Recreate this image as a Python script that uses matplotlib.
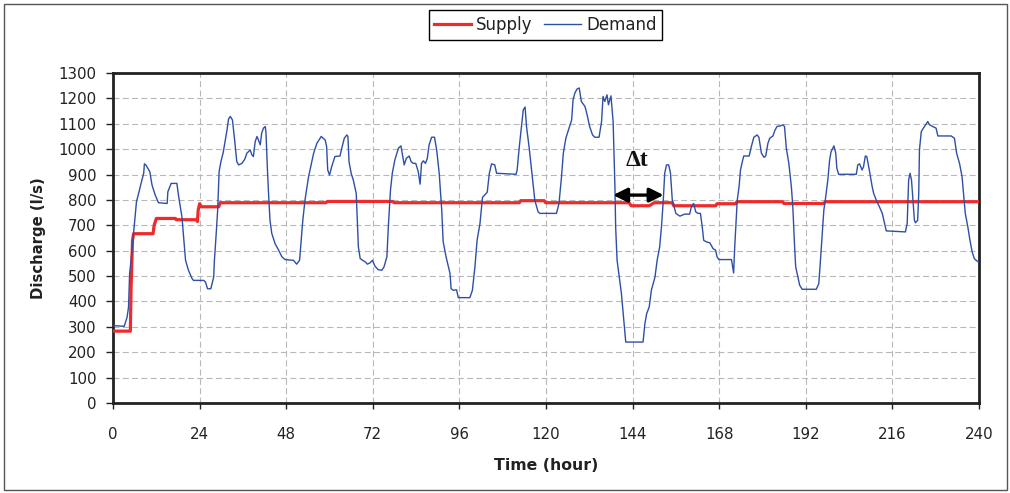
import numpy as np
import matplotlib.pyplot as plt
from matplotlib.patches import Rectangle

plt.rcParams['font.family'] = ['DejaVu Sans']
plt.rcParams['lines.scale_dashes'] = False

#1. data
hour_ticks = list(range(0, 241, 24))
q_ticks = list(range(0, 1301, 100))

supply_hour = [0, 4.8, 5.0, 5.4, 5.7, 11.1, 11.4, 12.0, 17.3, 17.5, 23.1, 23.4, 23.6, 24.0, 24.5,
               29.3, 29.7, 59.0, 59.4, 77.5, 77.9, 112.6, 113.0, 119.5, 119.9, 143.0, 143.6,
               148.6, 150.0, 155.0, 155.4, 167.0, 167.4, 172.6, 172.9, 185.6, 185.9, 197.0, 197.4, 240]
supply_q = [283, 283, 450, 640, 667, 667, 700, 727, 727, 722, 722, 715, 760, 785, 773,
            773, 789, 789, 794, 794, 789, 789, 797, 797, 789, 789, 777,
            777, 789, 789, 777, 777, 785, 785, 793, 793, 786, 786, 793, 793]

demand_hour = [0, 3.1, 3.9, 4.3, 4.6, 5.0, 5.7, 6.5, 7.1, 8.0, 8.5, 8.7, 9.1, 10.2, 10.8, 11.7, 12.6,
               15.0, 15.2, 16.1, 17.7, 18.2, 19.1, 19.6, 20.1, 20.9, 21.9, 22.3, 25.1, 25.6, 26.2,
               27.1, 27.9, 28.1, 28.6, 29.0, 29.4, 29.9, 30.5, 30.9, 31.6, 32.0, 32.5, 33.1, 33.7,
               34.3, 34.8, 35.7, 36.5, 37.1, 38.0, 38.5, 38.9, 39.4, 39.9, 40.3, 40.8, 41.2, 41.7,
               42.2, 42.4, 42.8, 43.1, 43.5, 44.0, 44.9, 45.9, 46.8, 47.7, 50.0, 50.9, 51.7, 52.0,
               52.6, 53.2, 54.2, 54.8, 55.6, 56.5, 57.7, 58.8, 59.2, 59.5, 60.0, 60.6, 61.5, 62.9,
               63.4, 64.1, 64.8, 65.1, 65.4, 66.0, 66.6, 67.4, 67.7, 68.0, 68.5, 69.2, 69.9, 70.5,
               71.2, 71.9, 72.6, 73.5, 74.5, 75.1, 75.9, 76.3, 76.9, 77.4, 78.1, 79.1, 79.8, 80.3,
               80.7, 81.3, 82.1, 82.6, 83.2, 83.9, 84.6, 85.1, 85.5, 86.0, 86.6, 87.1, 87.6, 88.3,
               89.1, 89.7, 90.4, 91.1, 91.5, 92.3, 93.4, 93.7, 94.3, 95.2, 95.7, 98.9, 99.6, 100.3,
               100.9, 101.7, 102.4, 103.7, 104.3, 104.9, 105.8, 106.3, 111.7, 112.0, 112.6, 113.2,
               113.7, 114.2, 114.6, 115.3, 116.0, 116.9, 117.8, 118.3, 122.9, 123.6, 124.3, 124.8,
               125.5, 126.4, 127.1, 127.5, 128.0, 128.6, 129.2, 129.8, 130.8, 131.4, 132.1, 132.9,
               133.5, 134.7, 135.4, 135.8, 136.3, 136.9, 137.3, 138.0, 138.6, 139.1, 139.3, 139.7,
               140.3, 140.9, 141.4, 141.9, 142.1, 146.9, 147.4, 147.9, 148.6, 149.2, 150.2, 150.8,
               151.5, 152.0, 152.5, 152.9, 153.4, 154.0, 154.5, 155.0, 156.0, 157.1, 158.4, 159.8,
               160.3, 160.9, 161.5, 162.1, 162.8, 163.3, 163.7, 164.4, 165.4, 166.3, 167.0, 167.4,
               167.9, 171.4, 172.0, 172.3, 172.7, 173.0, 173.5, 173.9, 174.3, 174.8, 176.3, 176.9,
               177.6, 178.5, 179.0, 179.7, 180.4, 180.9, 181.5, 182.0, 182.9, 183.4, 184.0, 185.0,
               185.7, 186.1, 186.6, 187.3, 188.0, 188.4, 188.9, 189.2, 189.8, 190.3, 191.0, 194.9,
               195.6, 196.0, 196.5, 197.0, 197.4, 198.1, 198.6, 199.0, 199.8, 200.3, 200.6, 201.1,
               206.0, 206.4, 206.9, 207.6, 208.0, 208.5, 208.9, 209.6, 210.4, 210.8, 211.7, 212.4,
               213.2, 213.8, 214.3, 219.6, 220.1, 220.5, 220.9, 221.3, 221.7, 222.1, 222.4, 223.0,
               223.3, 223.5, 224.0, 224.6, 225.2, 225.8, 226.3, 227.2, 228.1, 228.6, 232.3, 233.2,
               233.8, 234.6, 235.3, 235.7, 236.2, 236.9, 237.5, 238.1, 238.7, 239.2, 240.0]
demand_q = [305, 302, 338, 378, 510, 562, 668, 793, 826, 878, 905, 942, 938, 911, 859, 819, 789,
            786, 832, 865, 865, 813, 733, 648, 562, 523, 490, 483, 483, 477, 450,
            450, 496, 562, 668, 760, 911, 951, 984, 1017, 1076, 1118, 1129, 1115, 1036,
            951, 938, 944, 960, 984, 997, 977, 971, 1030, 1050, 1036, 1017, 1063, 1083,
            1089, 1063, 918, 826, 720, 668, 628, 602, 576, 565, 562, 547, 562, 615,
            720, 799, 892, 931, 984, 1023, 1050, 1036, 1010, 918, 898, 931, 971, 973,
            1004, 1043, 1056, 1050, 951, 905, 878, 826, 720, 615, 569, 562, 556, 547,
            552, 562, 539, 525, 523, 536, 576, 694, 839, 905, 957, 1004, 1013, 971,
            938, 964, 973, 951, 944, 944, 911, 862, 944, 954, 944, 964, 1017, 1047,
            1047, 997, 905, 760, 635, 576, 510, 450, 444, 446, 415, 415, 444, 536,
            641, 707, 810, 830, 905, 942, 938, 905, 901, 918, 1010, 1089,
            1155, 1166, 1089, 1010, 918, 799, 753, 747, 747, 786, 892, 984,
            1043, 1083, 1115, 1195, 1221, 1237, 1241, 1188, 1168, 1135, 1089, 1056,
            1047, 1047, 1109, 1208, 1188, 1214, 1175, 1210, 1109, 852, 694, 562,
            496, 431, 352, 273, 240, 240, 312, 352, 378, 444, 496, 562,
            615, 694, 799, 905, 938, 938, 905, 799, 747, 736, 744, 744,
            773, 786, 753, 747, 747, 694, 641, 635, 631, 608, 602, 576,
            565, 565, 512, 615, 720, 799, 852, 918, 944, 973, 973, 1010,
            1047, 1056, 1047, 984, 968, 973, 1023, 1043, 1052, 1073, 1089, 1092,
            1096, 1089, 1004, 944, 852, 773, 615, 536, 496, 464, 448, 448,
            470, 549, 654, 760, 799, 878, 957, 990, 1013, 984, 925, 901,
            901, 938, 942, 918, 931, 973, 971, 918, 852, 826, 793, 773,
            747, 710, 678, 674, 707, 878, 905, 878, 799, 720, 710, 720,
            826, 997, 1069, 1083, 1096, 1109, 1096, 1089, 1083, 1052, 1052, 1043,
            984, 944, 892, 826, 747, 694, 641, 595, 569, 562, 555]

# delta t annotation
dt_start, dt_end, dt_level = 138.6, 152.6, 819
dt_text_x, dt_text_y = 145.3, 957

#2. plot
fig = plt.figure(figsize=(10.1, 4.93), dpi=100)
ax = fig.add_axes([0.1119, 0.1826, 0.8574, 0.6693])

ax.plot(supply_hour, supply_q, color='#ee2a2a', lw=2.3, label='Supply', zorder=3)
ax.plot(demand_hour, demand_q, color='#2f4fa6', lw=1.0, label='Demand', zorder=4)

ax.annotate('', xy=(dt_end, dt_level), xytext=(dt_start, dt_level),
            arrowprops=dict(arrowstyle='<|-|>', color='black', lw=2.4,
                            mutation_scale=21, shrinkA=0, shrinkB=0), zorder=5)
ax.text(dt_text_x, dt_text_y, 'Δt', family='Liberation Serif', fontweight='bold',
        fontsize=17, ha='center', va='center', color='#111111')

ax.set_xlim(0, 240)
ax.set_ylim(0, 1300)
ax.set_xticks(hour_ticks)
ax.set_yticks(q_ticks)
ax.tick_params(axis='y', direction='out', length=5, width=1, pad=7, labelsize=10.8, colors='#222222')
ax.tick_params(axis='x', direction='out', length=4, width=1, pad=13, labelsize=10.8, colors='#222222')

ax.grid(True, color='#b8b8b8', lw=0.8, linestyle=(0, (4.3, 2.4)))
ax.set_axisbelow(True)
for sp in ax.spines.values():
    sp.set_linewidth(2)
    sp.set_color('#222222')

ax.set_ylabel('Discharge (l/s)', fontsize=10.7, fontweight='bold', color='#222222', labelpad=9)
ax.set_xlabel('Time (hour)', fontsize=11.3, fontweight='bold', color='#222222', labelpad=12)

leg = fig.legend(loc='center', bbox_to_anchor=(0.540, 0.949), ncol=2, fontsize=12,
                 handlelength=2.2, handletextpad=0.3, columnspacing=0.7, borderpad=0.35,
                 borderaxespad=0, fancybox=False, framealpha=1, edgecolor='black')
leg.get_frame().set_linewidth(1.0)
for t in leg.get_texts():
    t.set_color('#222222')

# outer frame of the picture
fig.patches.append(Rectangle((4 / 1010, 3 / 493), 1003 / 1010, 486 / 493, transform=fig.transFigure,
                             fill=False, edgecolor='#555555', lw=1.0))

fig.savefig('out.png', dpi=100)
